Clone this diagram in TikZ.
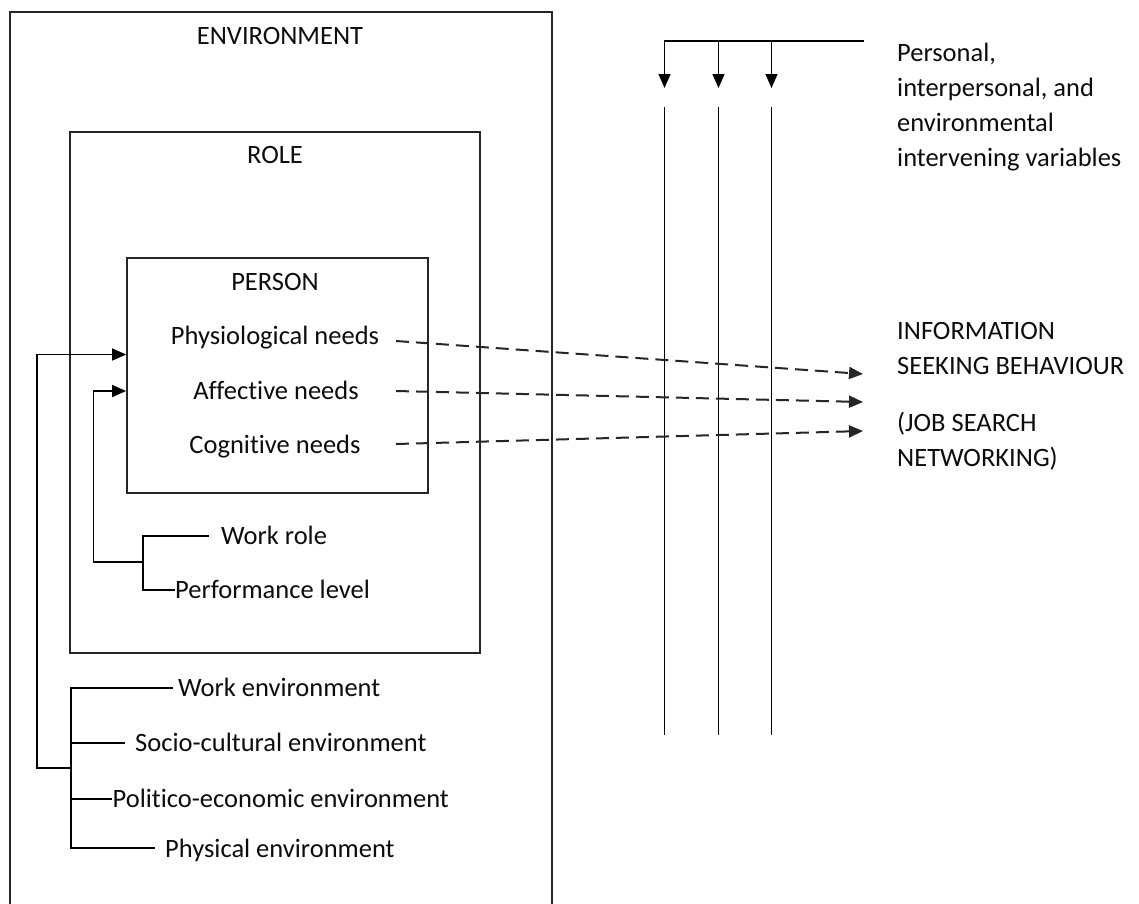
\documentclass[tikz,border=0pt]{standalone}
\usepackage{fontspec}
\setmainfont{Carlito}[Ligatures=NoCommon]
\usetikzlibrary{arrows.meta}
\begin{document}
\begin{tikzpicture}[x=1pt,y=-1pt,
  lbl/.style={font=\fontsize{26.5}{35}\selectfont, inner sep=0pt, text=black!95},
  frame/.style={draw=black!85, line width=1.8pt},
  wire/.style={draw=black, line width=1.5pt},
  tip/.style={-{Triangle[length=14pt,width=12pt]}},
  dasharrow/.style={draw=black!85, line width=2pt, dash pattern=on 13pt off 7pt, -{Triangle[length=14pt,width=12pt]}}
]
\clip (0,0) rectangle (1139,903);
\fill[white] (0,0) rectangle (1139,903);

% nested frames
\node[frame, minimum width=542pt, minimum height=918pt] (env) at (281,471) {};
\node[frame, minimum width=410pt, minimum height=521pt] (role) at (275,392.5) {};
\node[frame, minimum width=301pt, minimum height=235pt] (person) at (277.5,375.5) {};

% frame titles
\node[lbl, anchor=base] (envt) at (280,44.5) {ENVIRONMENT};
\node[lbl, anchor=base] (rolet) at (275,163) {ROLE};
\node[lbl, anchor=base] (perst) at (275,290) {PERSON};

% needs
\node[lbl, anchor=base] (phys) at (275,344) {Physiological needs};
\node[lbl, anchor=base] (aff) at (276,399) {Affective needs};
\node[lbl, anchor=base] (cog) at (275,453) {Cognitive needs};

% role factors
\node[lbl, anchor=base west] (wr) at (221,544.5) {Work role};
\node[lbl, anchor=base west] (pl) at (175,598.5) {Performance level};

% environment factors
\node[lbl, anchor=base west] (we) at (178,696.5) {Work environment};
\node[lbl, anchor=base west] (sc) at (135,751.5) {Socio-cultural environment};
\node[lbl, anchor=base west] (pe) at (112.5,807) {Politico-economic environment};
\node[lbl, anchor=base west] (pp) at (165,857) {Physical environment};

% right-hand labels (anchored on the baseline of their last line)
\node[lbl, anchor=base west, align=left] (iv) at (897,166.5)
  {Personal,\\interpersonal, and\\environmental\\intervening variables};
\node[lbl, anchor=base west, align=left] (isb) at (897,374.5)
  {INFORMATION\\SEEKING BEHAVIOUR};
\node[lbl, anchor=base west, align=left] (job) at (897,466.5)
  {(JOB SEARCH\\NETWORKING)};

% junction and end points
\coordinate (pin1) at (person.west |- 0,354.5);
\coordinate (pin2) at (person.west |- 0,391);
\coordinate (j1) at (37,768);
\coordinate (j2) at (93.5,562);
\coordinate (rb) at (143,562);
\coordinate (eb) at (71,768);
\coordinate (wrEnd) at (209,536);
\coordinate (plEnd) at (175,590);

% role bracket into the person
\draw[wire] (wrEnd) -| (plEnd -| rb) -- (plEnd);
\draw[wire, tip] (rb) -- (j2) |- (pin2);

% environment bracket into the person
\draw[wire] (173,688) -| (71,848) -- (155,848);
\draw[wire] (71,743) -- (125,743);
\draw[wire] (71,799) -- (112,799);
\draw[wire, tip] (eb) -- (j1) |- (pin1);

% intervening variables
\coordinate (ivs) at (863.5,41);
\coordinate (a1) at (664.5,88);
\coordinate (a2) at (718.5,88);
\coordinate (a3) at (771.5,88);
\draw[wire, tip] (ivs) -| (a1);
\draw[wire, tip] (a2 |- ivs) -- (a2);
\draw[wire, tip] (a3 |- ivs) -- (a3);
\draw[wire] (664.5,107) -- (664.5,735);
\draw[wire] (718.5,107) -- (718.5,735);
\draw[wire] (771.5,107) -- (771.5,735);

% needs lead to information seeking
\coordinate (d1) at (396,341);
\coordinate (d2) at (396,391);
\coordinate (d3) at (396,444);
\coordinate (e1) at (863,374);
\coordinate (e2) at (863,402);
\coordinate (e3) at (863,431);
\draw[dasharrow] (d1) -- (e1);
\draw[dasharrow] (d2) -- (e2);
\draw[dasharrow] (d3) -- (e3);
\end{tikzpicture}
\end{document}
